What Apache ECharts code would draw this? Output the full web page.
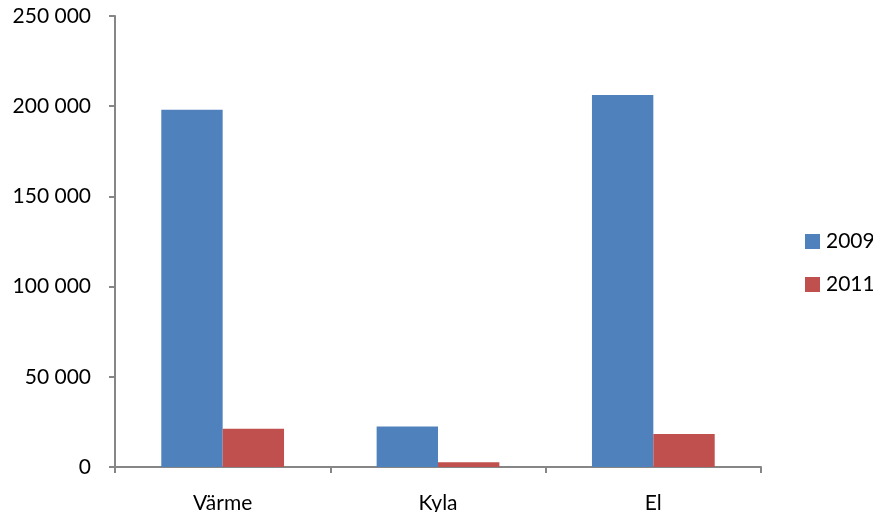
<!DOCTYPE html>
<html><head><meta charset="utf-8">
<script src="https://cdn.jsdelivr.net/npm/echarts@6/dist/echarts.min.js"></script>
<style>html,body{margin:0;padding:0;background:#fff}#c{width:873px;height:512px}</style>
</head><body><div id="c"></div>
<script>
const categories = ["Värme", "Kyla", "El"];
const seriesNames = ["2009", "2011"];
const values2009 = [198100, 22500, 206200];
const values2011 = [21200, 2600, 18300];
const colors = ["#4F81BD", "#C0504D"];

const font = "Lato, 'Noto Sans', sans-serif";
const chart = echarts.init(document.getElementById('c'));
chart.setOption({
  animation: false,
  textStyle: { fontFamily: font },
  grid: { left: 115, right: 112, top: 16, bottom: 45, containLabel: false, outerBoundsMode: 'none' },
  legend: {
    orient: 'vertical', left: 800, top: 226, itemWidth: 15, itemHeight: 15,
    itemGap: 22, icon: 'rect',
    textStyle: { fontFamily: font, fontSize: 21, color: '#000', padding: [0, 0, 0, 1] },
    data: seriesNames
  },
  xAxis: {
    type: 'category', data: categories,
    axisLine: { lineStyle: { color: '#868686', width: 2 } },
    axisTick: { show: true, length: 6, lineStyle: { color: '#868686', width: 2 } },
    axisLabel: { fontFamily: font, fontSize: 21, color: '#000', margin: 26 }
  },
  yAxis: {
    type: 'value', min: 0, max: 250000, interval: 50000,
    splitLine: { show: false },
    axisLine: { show: true, lineStyle: { color: '#868686', width: 2 } },
    axisTick: { show: true, length: 6, lineStyle: { color: '#868686', width: 2 } },
    axisLabel: {
      fontFamily: font, fontSize: 21, color: '#000', margin: 24,
      formatter: v => String(v).replace(/\B(?=(\d{3})+(?!\d))/g, ' ')
    }
  },
  series: [
    { name: seriesNames[0], type: 'bar', data: values2009, itemStyle: { color: colors[0] }, barGap: '0%', barCategoryGap: '43%' },
    { name: seriesNames[1], type: 'bar', data: values2011, itemStyle: { color: colors[1] }, barGap: '0%', barCategoryGap: '43%' }
  ]
});
</script></body></html>
